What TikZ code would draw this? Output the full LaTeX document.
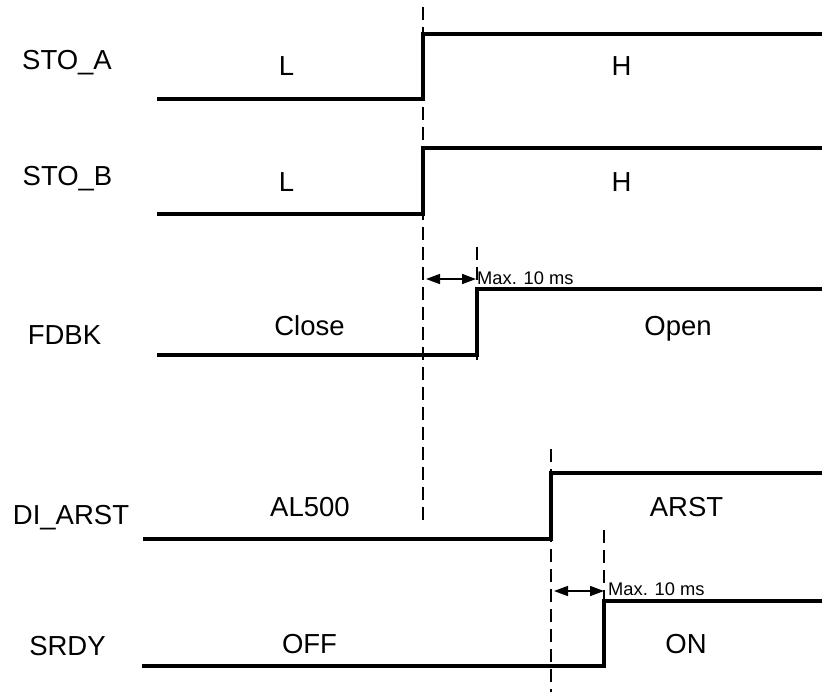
\documentclass[tikz,border=0pt]{standalone}
\usepackage{fontspec}
\setmainfont{Liberation Sans}
\usetikzlibrary{arrows.meta}
\begin{document}
\begin{tikzpicture}[x=1pt,y=-1pt,
  wave/.style={line width=3.2pt},
  guide/.style={line width=1.7pt,dash pattern=on 13pt off 7pt},
  dimarrow/.style={line width=1.6pt,{Triangle[length=14pt,width=10pt]}-{Triangle[length=14pt,width=10pt]}},
  sig/.style={inner sep=0pt,anchor=base,font=\fontsize{27.5}{32}\selectfont},
  state/.style={inner sep=0pt,anchor=base,font=\fontsize{27.5}{32}\selectfont},
  note/.style={inner sep=0pt,anchor=base west,font=\fontsize{18.3}{21}\selectfont}]
\useasboundingbox (0,0) rectangle (825,697);

% signal names
\node[sig] (stoa) at (67,69) {STO\_A};
\node[sig] (stob) at (67.5,185) {STO\_B};
\node[sig] (fdbk) at (64.5,344) {FDBK};
\node[sig] (diarst) at (71,524) {DI\_ARST};
\node[sig] (srdy) at (67.5,655) {SRDY};

% state labels
\node[state] (l1) at (286.5,75) {L};
\node[state] (h1) at (621.5,75) {H};
\node[state] (l2) at (286.5,191) {L};
\node[state] (h2) at (621.5,191) {H};
\node[state] (close) at (309.5,335) {Close};
\node[state] (open) at (678,335) {Open};
\node[state] (al500) at (310,516) {AL500};
\node[state] (arst) at (686.5,516) {ARST};
\node[state] (off) at (309.5,653) {OFF};
\node[state] (on) at (686,653) {ON};

% waveforms
\draw[wave] (157,99) -- (423,99) -- (423,34) -- (822,34);
\draw[wave] (157,214) -- (423,214) -- (423,148) -- (822,148);
\draw[wave] (157,355) -- (477,355) -- (477,289) -- (822,289);
\draw[wave] (143,539) -- (551,539) -- (551,473) -- (822,473);
\draw[wave] (142,666) -- (604,666) -- (604,601) -- (822,601);

% guide lines
\coordinate (g1a) at (423,7);   \coordinate (g1b) at (423,522);
\coordinate (g2a) at (477,247); \coordinate (g2b) at (477,362);
\coordinate (g3a) at (551,449); \coordinate (g3b) at (551,692);
\coordinate (g4a) at (604,530); \coordinate (g4b) at (604,601);
\draw[guide] (g1a) -- (g1b);
\draw[guide] (g2a) -- (g2b);
\draw[guide] (g3a) -- (g3b);
\draw[guide] (g4a) -- (g4b);

% delay arrows
\coordinate (a1a) at (426,279); \coordinate (a1b) at (476,279);
\coordinate (a2a) at (554,591); \coordinate (a2b) at (604,591);
\draw[dimarrow] (a1a) -- (a1b);
\draw[dimarrow] (a2a) -- (a2b);
\node[note] (max1) at (477,284) {Max. 10 ms};
\node[note] (max2) at (608,595) {Max. 10 ms};
\end{tikzpicture}
\end{document}
